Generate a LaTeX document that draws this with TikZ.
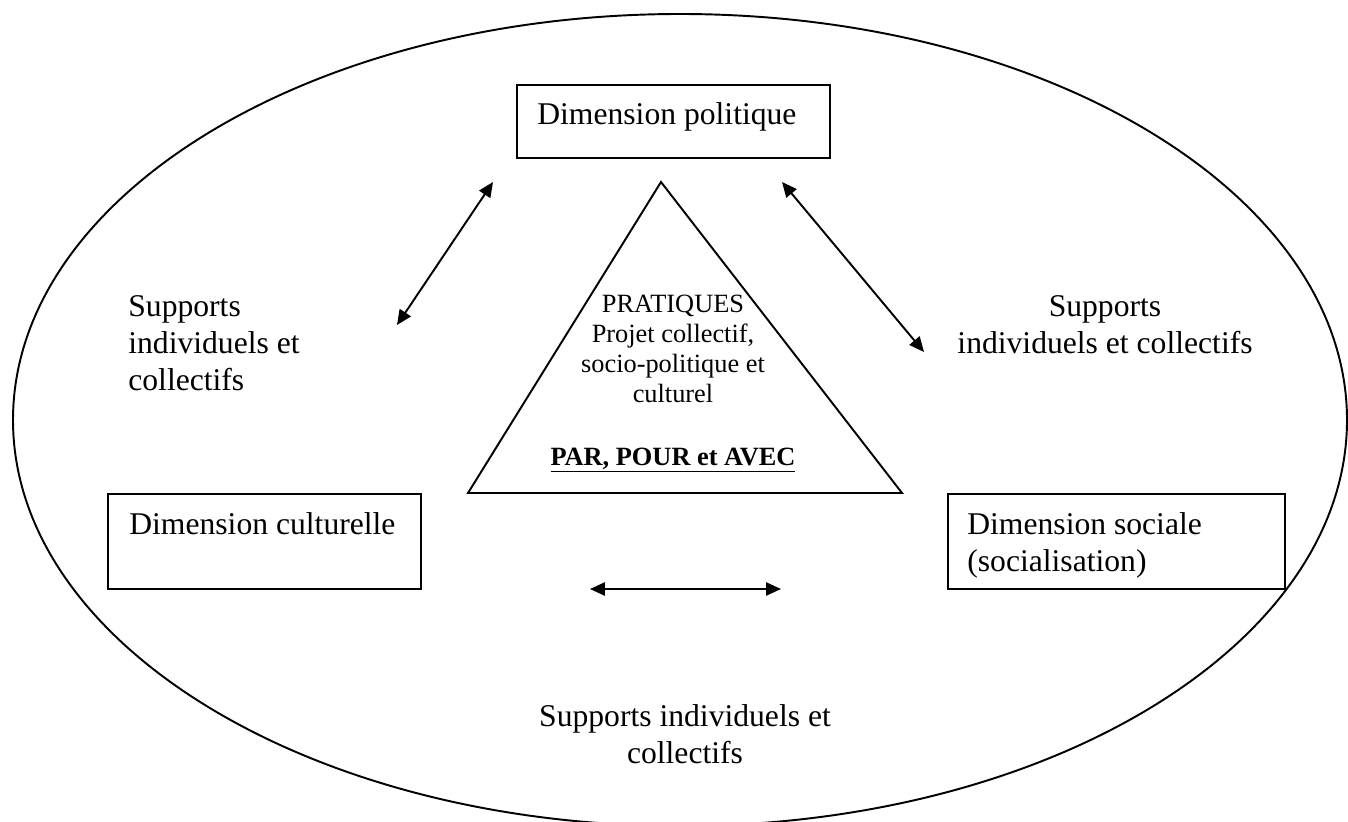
\documentclass[tikz,border=0pt]{standalone}
\usepackage{fontspec}
\setmainfont{Liberation Serif}
\usetikzlibrary{arrows.meta}

\tikzset{
  dimbox/.style = {draw, line width=1.1pt, rectangle},
  txt/.style = {inner sep=0pt, font=\fontsize{18}{21}\selectfont},
  tritxt/.style = {inner sep=0pt, align=center, font=\fontsize{15}{17}\selectfont},
  biarrow/.style = {line width=1.1pt, {Triangle[length=8.5pt,width=7.5pt]}-{Triangle[length=8.5pt,width=7.5pt]}}
}

\begin{document}
\begin{tikzpicture}[x=0.02cm, y=-0.02cm]
\useasboundingbox (0,0) rectangle (1348,821);
\clip (0,0) rectangle (1348,821);
%outer ellipse, cut by the bottom of the page
\draw[line width=1.1pt] (680,420) ellipse [x radius=667, y radius=406];
%the three dimension boxes
\draw[dimbox] (517,85) rectangle (830,158);
\node[txt, anchor=north west] (pol) at (537,102) {Dimension politique};
\draw[dimbox] (108,494) rectangle (421,589);
\node[txt, anchor=north west] (cult) at (129,512) {Dimension culturelle};
\draw[dimbox] (948,494) rectangle (1285,589);
\node[txt, anchor=north west, align=left] (soc) at (967,512) {Dimension sociale\\(socialisation)};
%central triangle
\coordinate (tl) at (468,493);
\coordinate (tr) at (902,493);
\coordinate (tt) at (661,182);
\draw[line width=1.1pt] (tl) -- (tr) -- (tt) -- cycle;
\node[tritxt, anchor=north] (prat) at (673,295) {PRATIQUES\\Projet collectif,\\socio-politique et\\culturel};
\node[tritxt, anchor=base] (par) at (673,465) {\underline{\textbf{PAR, POUR et AVEC}}};
%double arrows
\coordinate (la) at (397,325);
\coordinate (lb) at (493,182);
\draw[biarrow] (la) -- (lb);
\coordinate (ra) at (782,182);
\coordinate (rb) at (924,352);
\draw[biarrow] (ra) -- (rb);
\coordinate (ba) at (590,589);
\coordinate (bb) at (781,589);
\draw[biarrow] (ba) -- (bb);
%supports labels
\node[txt, anchor=north west, align=left] (supl) at (128,295) {Supports\\individuels et\\collectifs};
\node[txt, anchor=north, align=center] (supr) at (1105,295) {Supports\\individuels et collectifs};
\node[txt, anchor=north, align=center] (supb) at (685,704) {Supports individuels et\\collectifs};
\end{tikzpicture}
\end{document}
